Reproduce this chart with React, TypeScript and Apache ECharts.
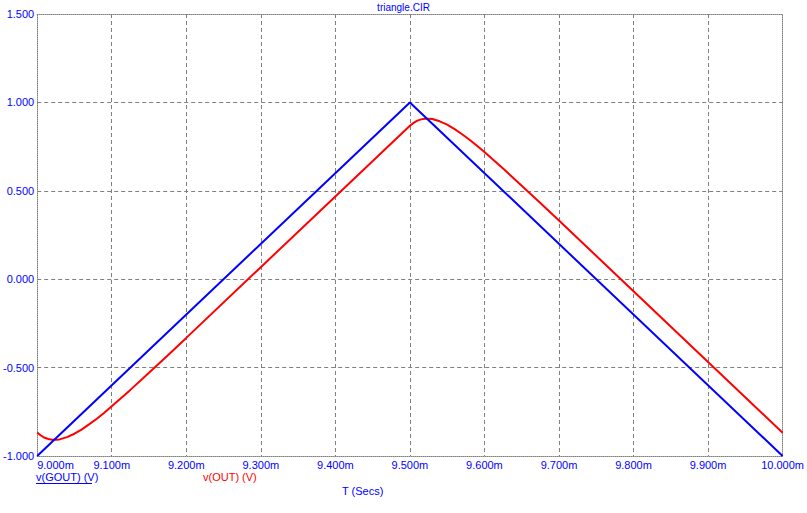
import React, { useEffect, useRef } from "react";
import * as echarts from "echarts";

// time in microseconds (axis labels shown in ms: 9.000m ... 10.000m)
const xTicks = [9000, 9100, 9200, 9300, 9400, 9500, 9600, 9700, 9800, 9900, 10000];
const yTicks = [-1.0, -0.5, 0.0, 0.5, 1.0, 1.5];

const goutT = [9000, 9500, 10000];
const goutV = [-1.0, 1.0, -1.0];

const outT = [
  9000, 9005, 9010, 9015, 9020, 9025, 9030, 9040, 9050, 9060, 9070, 9080, 9090, 9100,
  9125, 9150, 9175, 9200, 9300, 9400, 9500,
  9505, 9510, 9515, 9520, 9525, 9530, 9540, 9550, 9560, 9570, 9580, 9590, 9600,
  9625, 9650, 9675, 9700, 9800, 9900, 10000,
];
const outV = [
  -0.868, -0.884, -0.897, -0.904, -0.908, -0.908, -0.906, -0.893, -0.874, -0.849, -0.82, -0.789, -0.755, -0.719,
  -0.626, -0.529, -0.431, -0.332, 0.068, 0.468, 0.868,
  0.884, 0.897, 0.904, 0.908, 0.908, 0.906, 0.893, 0.874, 0.849, 0.82, 0.789, 0.755, 0.719,
  0.626, 0.529, 0.431, 0.332, -0.068, -0.468, -0.868,
];

const title = "triangle.CIR";
const seriesNames = ["v(GOUT) (V)", "v(OUT) (V)"];
const xTitle = "T (Secs)";

const BLUE = "#0000ff";
const RED = "#ff0000";
const GRID = "#808080";
const FONT = "'Liberation Sans', Arial, sans-serif";

export default function App() {
  const ref = useRef<HTMLDivElement>(null);
  useEffect(() => {
    if (!ref.current) return;
    const chart = echarts.init(ref.current, null, { renderer: "svg" });
    const xMin = xTicks[0];
    const xMax = xTicks[xTicks.length - 1];
    const yMin = yTicks[0];
    const yMax = yTicks[yTicks.length - 1];
    const border = { show: true, onZero: false, lineStyle: { color: GRID, type: [1, 1], width: 1 } };
    chart.setOption({
      animation: false,
      backgroundColor: "#ffffff",
      grid: { left: 36, top: 14, width: 751, height: 442, show: false },
      xAxis: [
        {
          type: "value",
          min: xMin,
          max: xMax,
          interval: 100,
          axisLine: border,
          axisTick: { show: false },
          splitLine: {
            show: true,
            showMinLine: false,
            showMaxLine: false,
            lineStyle: { color: GRID, type: [4, 3], width: 1 },
          },
          axisLabel: {
            color: BLUE,
            fontFamily: FONT,
            fontSize: 11,
            margin: 3,
            alignMinLabel: "left",
            formatter: (v: number) => (v / 1000).toFixed(3) + "m",
          },
        },
        {
          type: "value",
          position: "top",
          min: xMin,
          max: xMax,
          interval: 100,
          axisLine: border,
          axisTick: { show: false },
          axisLabel: { show: false },
          splitLine: { show: false },
        },
      ],
      yAxis: [
        {
          type: "value",
          min: yMin,
          max: yMax,
          interval: 0.5,
          axisLine: border,
          axisTick: { show: false },
          splitLine: {
            show: true,
            showMinLine: false,
            showMaxLine: false,
            lineStyle: { color: GRID, type: [4, 3], width: 1 },
          },
          axisLabel: {
            color: BLUE,
            fontFamily: FONT,
            fontSize: 11,
            margin: 3,
            formatter: (v: number) => v.toFixed(3),
          },
        },
        {
          type: "value",
          position: "right",
          min: yMin,
          max: yMax,
          interval: 0.5,
          axisLine: border,
          axisTick: { show: false },
          axisLabel: { show: false },
          splitLine: { show: false },
        },
      ],
      series: [
        {
          name: seriesNames[1],
          type: "line",
          data: outT.map((t, i) => [t, outV[i]]),
          showSymbol: false,
          lineStyle: { color: RED, width: 2 },
          itemStyle: { color: RED },
        },
        {
          name: seriesNames[0],
          type: "line",
          data: goutT.map((t, i) => [t, goutV[i]]),
          showSymbol: false,
          lineStyle: { color: BLUE, width: 2 },
          itemStyle: { color: BLUE },
        },
      ],
      graphic: [
        {
          type: "text",
          left: "center",
          top: 2,
          style: { text: title, fill: BLUE, font: `10px ${FONT}` },
        },
        {
          type: "text",
          x: 36,
          y: 471,
          style: { text: seriesNames[0], fill: BLUE, font: `11px ${FONT}` },
        },
        {
          type: "line",
          shape: { x1: 36, y1: 483.5, x2: 92, y2: 483.5 },
          style: { stroke: BLUE, lineWidth: 1 },
        },
        {
          type: "text",
          x: 203,
          y: 471,
          style: { text: seriesNames[1], fill: RED, font: `11px ${FONT}` },
        },
        {
          type: "text",
          x: 342,
          y: 485,
          style: { text: xTitle, fill: BLUE, font: `11px ${FONT}` },
        },
      ],
    });
    return () => chart.dispose();
  }, []);
  return (
    <div
      ref={ref}
      style={{ position: "fixed", left: 0, top: 0, width: 807, height: 513, background: "#fff" }}
    />
  );
}
